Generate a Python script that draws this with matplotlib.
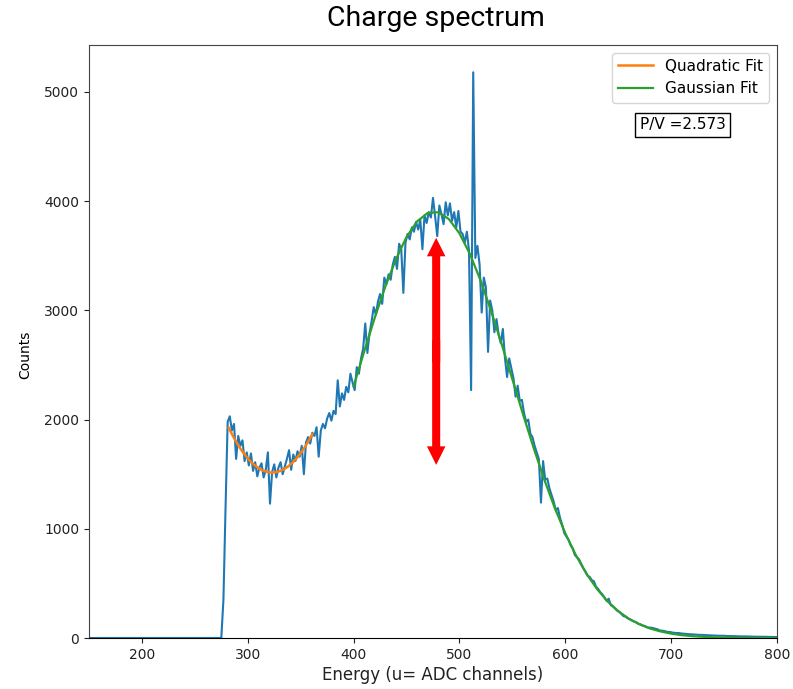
import numpy as np
import matplotlib
matplotlib.use("Agg")
import matplotlib.pyplot as plt
from matplotlib.patches import FancyArrow

# ---------------- data ----------------
x_min = 150
first_channel = 276
bin_width = 2
counts = [
    350, 1190, 1980, 2030, 1900, 1960, 1640, 1850, 1760, 1810,
    1620, 1700, 1580, 1690, 1530, 1610, 1480, 1560, 1600, 1470,
    1540, 1700, 1230, 1520, 1590, 1470, 1560, 1610, 1500, 1570,
    1640, 1720, 1540, 1680, 1620, 1710, 1660, 1760, 1500, 1790,
    1840, 1780, 1880, 1850, 1930, 1660, 1900, 1960, 1920, 2010,
    2060, 1990, 2080, 2050, 2360, 2120, 2240, 2180, 2300, 2250,
    2420, 2340, 2270, 2480, 2420, 2560, 2650, 2880, 2610, 2790,
    2900, 3030, 2960, 3080, 3150, 3060, 3300, 3240, 3330, 3280,
    3420, 3490, 3380, 3610, 3560, 3160, 3620, 3700, 3650, 3760,
    3720, 3810, 3740, 3830, 3560, 3870, 3800, 3900, 3850, 4030,
    3860, 3680, 3960, 3880, 3790, 3990, 3870, 3980, 3820, 3900,
    3760, 3910, 3720, 3700, 3620, 3720, 3550, 2270, 5180, 3480,
    3590, 3420, 2980, 3300, 3210, 2620, 3090, 3000, 2800, 2920,
    2780, 2700, 2830, 2560, 2390, 2560, 2470, 2380, 2210, 2310,
    2170, 2180, 2060, 1980, 2000, 1870, 1840, 1760, 1700, 1640,
    1240, 1620, 1450, 1460, 1370, 1310, 1250, 1170, 1190, 1100,
    1040, 960, 930, 900, 850, 820, 760, 740, 720, 680,
    640, 610, 570, 560, 530, 520, 470, 450, 420, 400,
    370, 340, 360, 300, 290, 270, 250, 240, 220, 200,
    195, 180, 170, 160, 150, 145, 130, 125, 115, 110,
    100, 95, 95, 90, 85, 80, 70, 68, 65, 60,
    55, 55, 50, 48, 45, 46, 42, 40, 38, 37,
    35, 34, 32, 31, 30, 28, 29, 27, 26, 25,
    24, 24, 23, 22, 21, 20, 21, 19, 18, 18,
    17, 17, 16, 16, 15, 15, 14, 14, 14, 13,
    13, 12, 12, 12, 11, 11, 11, 10, 10, 10,
    9, 9,
]

quad_x = [282, 286, 290, 294, 298, 302, 306, 310, 314, 318,
          322, 326, 330, 334, 338, 342, 346, 350, 354, 358, 361]
quad_y = [1925, 1849, 1781, 1720, 1668, 1623, 1586, 1556, 1535, 1521,
          1515, 1517, 1527, 1545, 1570, 1603, 1644, 1693, 1749, 1814, 1867]

gauss_x = [400, 410, 420, 430, 440, 450, 460, 470, 480, 490,
           500, 510, 520, 530, 540, 550, 560, 570, 580, 590,
           600, 610, 620, 630, 640, 650, 660, 670, 680, 690,
           700, 710, 720, 730, 740, 750, 760, 770, 780, 790, 800]
gauss_y = [2304, 2624, 2933, 3219, 3469, 3672, 3815, 3892, 3899, 3836,
           3705, 3514, 3272, 2992, 2687, 2369, 2050, 1743, 1454, 1192,
           959, 758, 588, 448, 335, 246, 177, 126, 87, 60,
           40, 26, 17, 11, 7, 4, 2, 1, 1, 0, 0]

arrow_x = 478
arrow_low = 1585
arrow_high = 3665
pv_text = "P/V =2.573"

# ---------------- figure ----------------
fig = plt.figure(figsize=(7.93, 6.89), dpi=100)
ax = fig.add_axes([89/793, 51/689, 688/793, 593/689])

centers = first_channel + bin_width / 2 + bin_width * np.arange(len(counts))
xs = np.concatenate([[x_min, first_channel - 1], centers])
ys = np.concatenate([[0, 0], counts])
ax.plot(xs, ys, color="#1f77b4", lw=1.5)

ax.plot(quad_x, quad_y, color="#ff7f0e", lw=1.8, label="Quadratic Fit")
ax.plot(gauss_x, gauss_y, color="#2ca02c", lw=1.6, label="Gaussian Fit")

# double-headed red arrow (two overlapping arrows from the middle outward)
mid = (arrow_low + arrow_high) / 2
ax.add_patch(FancyArrow(arrow_x, mid - 100, 0, arrow_high - mid + 100, width=7.6,
                        head_width=17.5, head_length=170,
                        length_includes_head=True, color="red", lw=0))
ax.add_patch(FancyArrow(arrow_x, mid + 100, 0, arrow_low - mid - 100, width=7.6,
                        head_width=17.5, head_length=170,
                        length_includes_head=True, color="red", lw=0))

ax.text(711, 4700, pv_text, ha="center", va="center", fontsize=11,
        bbox=dict(boxstyle="square,pad=0.3", facecolor="white", edgecolor="black", lw=1))

ax.set_xlim(150, 800)
ax.set_ylim(0, 5430)
ax.set_xticks([200, 300, 400, 500, 600, 700, 800])
ax.set_yticks([0, 1000, 2000, 3000, 4000, 5000])
ax.tick_params(labelsize=10, colors="#222222")
for s in ["left", "right", "top"]:
    ax.spines[s].set_color("#444444")

ax.legend(loc="upper right", fontsize=11, handlelength=2.3)

fig.text(436/793, 1 - 18/689, "Charge spectrum", ha="center", va="center",
         fontsize=20.5, family=["Roboto", "DejaVu Sans"])
fig.text(433/793, 1 - 675/689, "Energy (u= ADC channels)", ha="center", va="center",
         fontsize=12, color="#222222")
fig.text(25/793, 1 - 355/689, "Counts", ha="center", va="center", rotation=90,
         fontsize=10, family=["Liberation Sans Narrow", "DejaVu Sans"])

fig.savefig("out.png", dpi=100)
